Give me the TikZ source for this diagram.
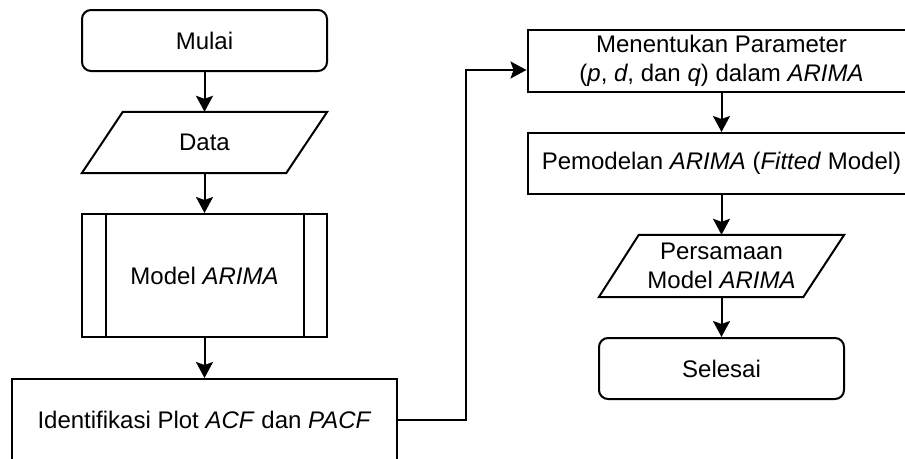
\documentclass[tikz,border=0pt]{standalone}
\usepackage{fontspec}
\setmainfont{Liberation Sans}
\usetikzlibrary{arrows.meta}
\begin{document}
\begin{tikzpicture}[x=1pt,y=-1pt,
  every node/.style={font=\fontsize{24}{29}\selectfont, align=center, inner sep=0pt},
  box/.style={draw, line width=2pt, rectangle},
  term/.style={box, rounded corners=9pt},
  io/.style={rectangle},
  arr/.style={line width=2pt, -{Stealth[length=16pt,width=17pt,inset=3pt]}}]
\useasboundingbox (0,0) rectangle (905,458);
\clip (0,0) rectangle (905,458);
% left column
\node[term, minimum width=245pt, minimum height=61pt] (mulai) at (204.5,40.5) {Mulai};
\node[io, minimum width=245pt, minimum height=61pt] (data) at (204.5,142.5) {Data};
\draw[line width=2pt, line join=miter] ([xshift=41pt]data.north west) -- (data.north east) -- ([xshift=-41pt]data.south east) -- (data.south west) -- cycle;
\node[box, minimum width=245pt, minimum height=123pt] (model) at (204.5,275.5) {Model \textit{ARIMA}};
\draw[line width=2pt] ([xshift=25pt]model.north west) -- ([xshift=25pt]model.south west);
\draw[line width=2pt] ([xshift=-24pt]model.north east) -- ([xshift=-24pt]model.south east);
\node[box, minimum width=385pt, minimum height=82pt] (ident) at (204.5,420) {Identifikasi Plot \textit{ACF} dan \textit{PACF}};
% right column
\node[box, minimum width=388pt, minimum height=62pt] (menent) at (721.5,61) {Menentukan Parameter\\(\textit{p}, \textit{d}, dan \textit{q}) dalam \textit{ARIMA}};
\node[box, minimum width=388pt, minimum height=61pt] (pemod) at (721.5,163.5) {Pemodelan \textit{ARIMA} (\textit{Fitted} Model)};
\node[io, minimum width=245pt, minimum height=62pt] (pers) at (721.5,266) {Persamaan\\Model \textit{ARIMA}};
\draw[line width=2pt, line join=miter] ([xshift=40pt]pers.north west) -- (pers.north east) -- ([xshift=-41pt]pers.south east) -- (pers.south west) -- cycle;
\node[term, minimum width=245pt, minimum height=61pt] (selesai) at (721.5,368.5) {Selesai};
% connectors
\draw[arr] (mulai.south) -- (data.north);
\draw[arr] (data.south) -- (model.north);
\draw[arr] (model.south) -- (ident.north);
\coordinate (bend) at (466,70);
\draw[arr] (ident.east) -| (bend) -- (menent.west |- bend);
\draw[arr] (menent.south) -- (pemod.north);
\draw[arr] (pemod.south) -- (pers.north);
\draw[arr] (pers.south) -- (selesai.north);
\end{tikzpicture}
\end{document}
